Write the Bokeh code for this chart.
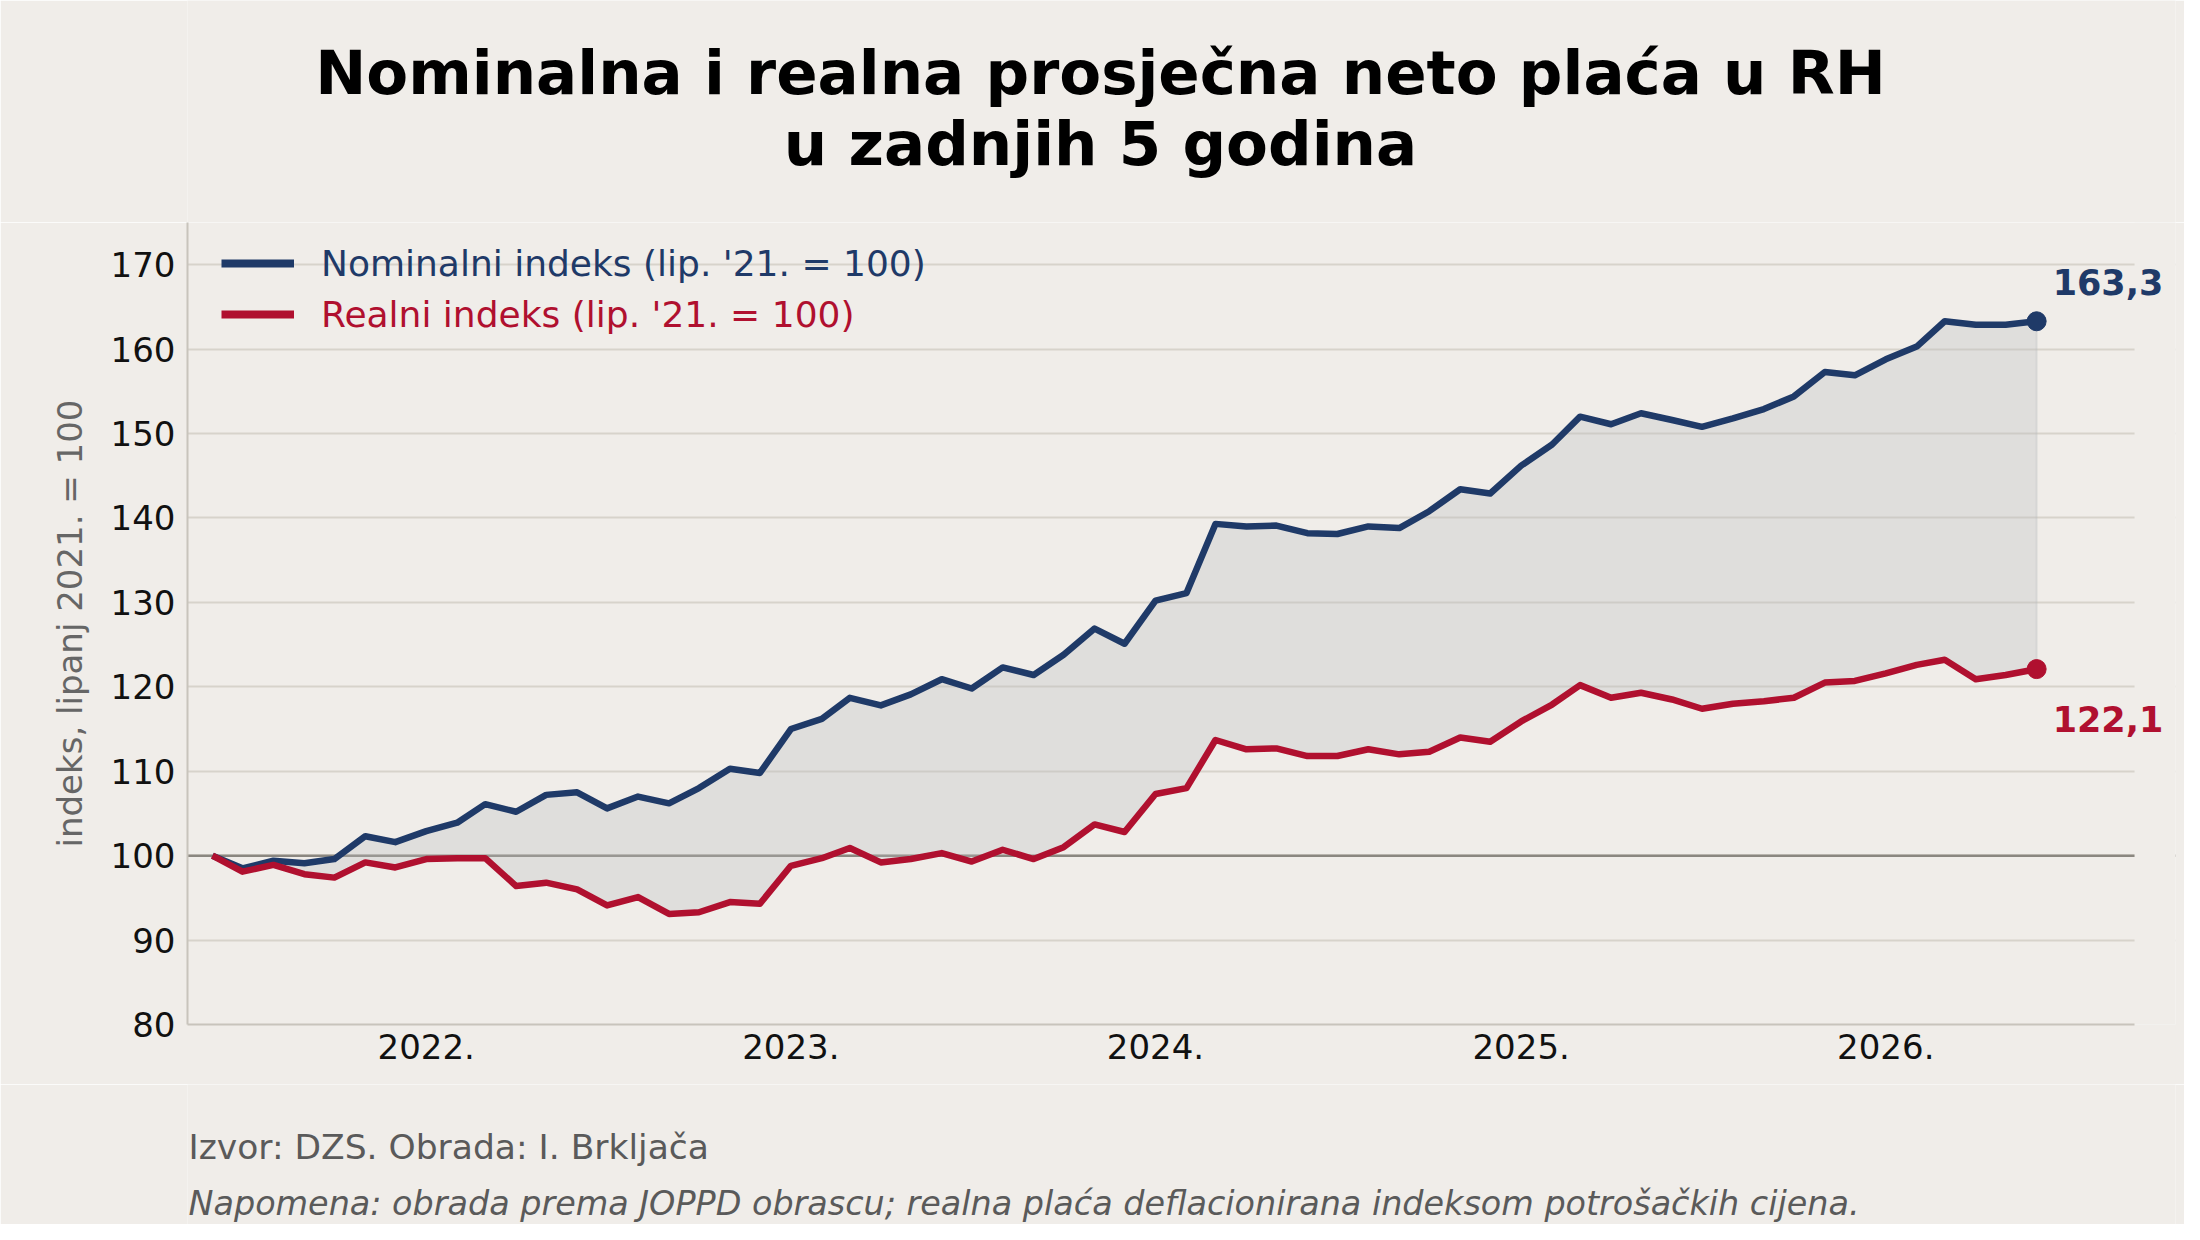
import numpy as np
import pandas as pd
from bokeh.plotting import figure
from bokeh.layouts import column
from bokeh.models import (Range1d, FixedTicker, DatetimeTickFormatter, Span, Label,
                          Legend, LegendItem, BoxAnnotation)
from bokeh.embed import file_html
from bokeh.resources import INLINE

# ---------------- data ----------------
months = pd.date_range("2021-06-01", "2026-06-01", freq="MS")

nominal = [
    100.0, 98.5, 99.4, 99.1, 99.6, 102.3, 101.6,
    102.9, 103.9, 106.1, 105.2, 107.2, 107.5, 105.6, 107.0, 106.2, 108.0, 110.3, 109.8,
    115.0, 116.2, 118.7, 117.8, 119.1, 120.9, 119.8, 122.3, 121.4, 123.8, 126.9, 125.1,
    130.2, 131.1, 139.3, 139.0, 139.1, 138.2, 138.1, 139.0, 138.8, 140.8, 143.4, 142.9,
    146.2, 148.7, 152.0, 151.1, 152.4, 151.6, 150.8, 151.8, 152.9, 154.4, 157.3, 156.9,
    158.8, 160.3, 163.3, 162.9, 162.9, 163.3,
]
real = [
    100.0, 98.1, 98.9, 97.8, 97.4, 99.2, 98.6,
    99.6, 99.7, 99.7, 96.4, 96.8, 96.0, 94.1, 95.1, 93.1, 93.3, 94.5, 94.3,
    98.8, 99.7, 100.9, 99.2, 99.6, 100.3, 99.3, 100.7, 99.6, 101.0, 103.7, 102.8,
    107.3, 108.0, 113.7, 112.6, 112.7, 111.8, 111.8, 112.6, 112.0, 112.3, 114.0, 113.5,
    115.9, 117.9, 120.2, 118.7, 119.3, 118.5, 117.4, 118.0, 118.3, 118.7, 120.5, 120.7,
    121.6, 122.6, 123.2, 120.9, 121.4, 122.1,
]
year_ticks = ["2022-01-01", "2023-01-01", "2024-01-01", "2025-01-01", "2026-01-01"]
y_ticks = [80, 90, 100, 110, 120, 130, 140, 150, 160, 170]

title_lines = ["Nominalna i realna prosječna neto plaća u RH", "u zadnjih 5 godina"]
label_nominal = "Nominalni indeks (lip. '21. = 100)"
label_real = "Realni indeks (lip. '21. = 100)"
y_label = "indeks, lipanj 2021. = 100"
source_note = "Izvor: DZS.  Obrada: I. Brkljača"
footnote = "Napomena: obrada prema JOPPD obrascu; realna plaća deflacionirana indeksom potrošačkih cijena."

# ---------------- style ----------------
NAVY = "#1f3a68"
RED = "#b0102f"
BG = "#f0ede9"
FONT = "DejaVu Sans"

def ms(ts):
    return pd.Timestamp(ts).value / 1e6

X_START = "2021-05-07"     # left edge of the axes
X_AXIS_END = "2026-09-07"  # right edge of the axes (grid / axis line stop here)
X_FRAME_END = "2026-10-18" # extra room for the end-value labels
Y_MIN, Y_MAX = 80, 175

W = 2184
H_TITLE = 222
H_MAIN = 862
H_FOOT = 140
BORDER_L, BORDER_R = 187, 9


def strip(height):
    s = figure(width=W, height=height, output_backend="svg", toolbar_location=None,
               x_range=Range1d(0, 1), y_range=Range1d(0, 1),
               x_axis_location=None, y_axis_location=None,
               min_border=0, min_border_left=BORDER_L, min_border_right=BORDER_R,
               background_fill_color=BG, border_fill_color=BG,
               outline_line_color=None)
    s.xgrid.visible = False
    s.ygrid.visible = False
    return s

# ---------------- title strip ----------------
t = strip(H_TITLE)
for txt, yy in ((title_lines[0], 150), (title_lines[1], 79)):
    t.add_layout(Label(x=913, y=yy, x_units="screen", y_units="screen", text=txt,
                       text_align="center", text_baseline="alphabetic",
                       text_font=FONT, text_font_size="61px", text_font_style="bold",
                       text_color="#000000"))

# ---------------- main chart ----------------
p = figure(width=W, height=H_MAIN, x_axis_type="datetime",
           output_backend="svg", toolbar_location=None,
           x_range=Range1d(ms(X_START), ms(X_FRAME_END)),
           y_range=Range1d(Y_MIN, Y_MAX),
           min_border_left=BORDER_L, min_border_right=BORDER_R,
           min_border_top=0, min_border_bottom=60,
           background_fill_color=BG, border_fill_color=BG,
           outline_line_color=None)

# grid
p.xgrid.visible = False
p.ygrid.grid_line_color = "#d7d3cb"
p.ygrid.grid_line_width = 2

# axes
for ax in (p.xaxis[0], p.yaxis[0]):
    ax.axis_line_color = "#c8c4bc"
    ax.axis_line_width = 2
    ax.major_tick_line_color = None
    ax.minor_tick_line_color = None
    ax.major_tick_out = 0
    ax.major_tick_in = 0
    ax.minor_tick_out = 0
    ax.minor_tick_in = 0
    ax.major_label_text_font = FONT
    ax.major_label_text_font_size = "34px"
    ax.major_label_text_color = "#111111"

p.xaxis.ticker = FixedTicker(ticks=[ms(d) for d in year_ticks])
fmt = "%Y."
p.xaxis.formatter = DatetimeTickFormatter(years=fmt, months=fmt, days=fmt, hours=fmt,
                                          minutes=fmt, seconds=fmt, milliseconds=fmt,
                                          microseconds=fmt, minsec=fmt, hourmin=fmt)
p.xaxis.major_label_standoff = 9
p.xaxis.bounds = (ms(X_START), ms(X_AXIS_END))

p.yaxis.ticker = FixedTicker(ticks=y_ticks)
p.yaxis.major_label_standoff = 12
p.yaxis.axis_label = y_label
p.yaxis.axis_label_text_font = FONT
p.yaxis.axis_label_text_font_size = "34px"
p.yaxis.axis_label_text_font_style = "normal"
p.yaxis.axis_label_text_color = "#666666"
p.yaxis.axis_label_standoff = 18

# reference line at 100
p.add_layout(Span(location=100, dimension="width", line_color="#8b8780",
                  line_width=2.5, level="underlay"))

# hide grid / reference line to the right of the axes' end
p.add_layout(BoxAnnotation(left=ms(X_AXIS_END), fill_color=BG, fill_alpha=1.0,
                           line_color=None, level="underlay"))

# fill between series
xs = np.concatenate([months.values, months.values[::-1]])
ys = np.array(nominal + real[::-1])
p.patch(xs, ys, fill_color="#b9bcbf", fill_alpha=0.3,
        line_color="#b9bcbf", line_alpha=0.35, line_width=2)

# lines
p.line(months, nominal, line_width=6.5, color=NAVY, line_join="round")
p.line(months, real, line_width=6.5, color=RED, line_join="round")

# end markers
p.scatter([months[-1]], [nominal[-1]], size=19, color=NAVY)
p.scatter([months[-1]], [real[-1]], size=19, color=RED)

last_x = ms(months[-1])
p.add_layout(Label(x=last_x, y=nominal[-1], x_offset=16, y_offset=39,
                   text=f"{nominal[-1]:.1f}".replace(".", ","),
                   text_font=FONT, text_font_size="35px", text_font_style="bold",
                   text_color=NAVY, text_baseline="alphabetic"))
p.add_layout(Label(x=last_x, y=real[-1], x_offset=16, y_offset=-50,
                   text=f"{real[-1]:.1f}".replace(".", ","),
                   text_font=FONT, text_font_size="35px", text_font_style="bold",
                   text_color=RED, text_baseline="alphabetic"))

# legends (two, for per-item text colours); proxy lines carry the legend style
leg_nom = p.line(x=[months[0]], y=[np.nan], line_width=8, color=NAVY)
leg_real = p.line(x=[months[0]], y=[np.nan], line_width=8, color=RED)
for rend, lab, col, vy in ((leg_nom, label_nominal, NAVY, 740),
                           (leg_real, label_real, RED, 689)):
    lg = Legend(items=[LegendItem(label=lab, renderers=[rend])], location=(34, vy),
                padding=0, margin=0, spacing=0, border_line_color=None,
                background_fill_alpha=0, glyph_width=73, glyph_height=42,
                label_height=42, label_standoff=27,
                label_text_font=FONT, label_text_font_size="36px",
                label_text_color=col)
    p.add_layout(lg)

# ---------------- footnotes strip ----------------
f = strip(H_FOOT)
f.add_layout(Label(x=1, y=78, x_units="screen", y_units="screen", text=source_note,
                   text_baseline="alphabetic", text_font=FONT, text_font_size="34.5px",
                   text_color="#5a5a5a"))
f.add_layout(Label(x=1, y=21, x_units="screen", y_units="screen", text=footnote,
                   text_baseline="alphabetic", text_font=FONT, text_font_size="33.4px",
                   text_font_style="italic", text_color="#5a5a5a"))

page = column(t, p, f, spacing=0)
open("out.html", "w").write(file_html(page, INLINE))
